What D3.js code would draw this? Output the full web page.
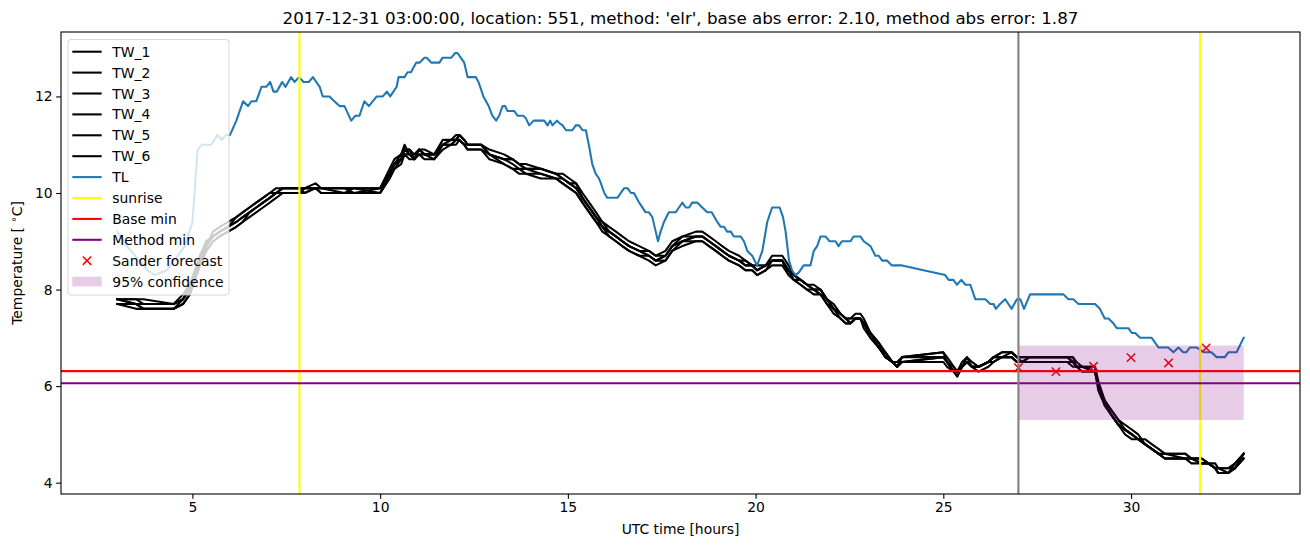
<!DOCTYPE html>
<html><head><meta charset="utf-8">
<script src="https://cdn.jsdelivr.net/npm/d3@7"></script>
<style>body{margin:0;background:#fff} svg{display:block} text{font-family:"DejaVu Sans",sans-serif;fill:#000}</style>
</head><body><svg id="c" width="1310" height="547"></svg>
<script>
const chartTitle = "2017-12-31 03:00:00, location: 551, method: 'elr', base abs error: 2.10, method abs error: 1.87";
const xLabel = "UTC time [hours]";
const xTicks = [5, 10, 15, 20, 25, 30];
const yTicks = [4, 6, 8, 10, 12];
const legendLabels = ["TW_1","TW_2","TW_3","TW_4","TW_5","TW_6","TL","sunrise","Base min","Method min","Sander forecast","95% confidence"];

const twTimes = [
 3.0, 3.5, 3.7, 4.5, 4.75,
 4.93, 5.2, 5.37, 5.55, 5.73, 5.95, 6.17, 6.34, 6.52, 6.7, 6.88, 7.06, 7.23, 7.41,
 7.85, 7.99, 8.28, 8.43, 9.05, 9.3, 10.0,
 10.25, 10.38, 10.56, 10.65, 10.78, 10.91, 11.04, 11.18, 11.44, 11.67, 11.89, 12.02, 12.11, 12.24, 12.33, 12.69,
 12.91, 13.3, 13.53, 13.7, 13.88, 14.28, 14.68, 14.86, 15.04, 15.22,
 15.39, 15.57, 15.75, 15.92, 16.1, 16.28, 16.45, 16.63, 16.9, 17.16, 17.34,
 17.6, 17.78, 18.05, 18.41, 18.58, 18.76, 18.94, 19.11, 19.29, 19.56, 19.73, 19.91, 20.04,
 20.27, 20.44, 20.71, 20.88, 21.02, 21.2, 21.37, 21.55, 21.73, 21.9, 22.08, 22.26, 22.4, 22.53, 22.66, 22.79, 22.88, 23.06, 23.28, 23.46, 23.64, 23.77, 23.9,
 25.0, 25.1, 25.28, 25.37, 25.5, 25.63, 25.76, 25.94, 26.2, 26.34, 26.56, 26.82, 26.96, 27.1, 27.3,
 28.3, 28.45, 28.55, 28.7, 29.04, 29.13, 29.3, 29.48,
 29.66, 29.84, 30.02, 30.19, 30.37, 30.55, 30.73, 30.9, 31.44, 31.61, 31.88, 32.06, 32.24, 32.32, 32.59, 32.77, 33.0];

const tw1 = [
 7.8, 7.8, 7.7, 7.7, 7.8,
 8.0, 8.6, 8.9, 9.1, 9.2, 9.3, 9.4, 9.5, 9.6, 9.7, 9.8, 9.9, 10.0, 10.1,
 10.1, 10.1, 10.2, 10.1, 10.1, 10.1, 10.1,
 10.4, 10.6, 10.7, 10.9, 10.8, 10.7, 10.9, 10.8, 10.8, 11.0, 11.1, 11.1, 11.2, 11.1, 11.0, 11.0,
 10.8, 10.7, 10.7, 10.6, 10.5, 10.5, 10.4, 10.3, 10.2, 10.1,
 9.9, 9.7, 9.5, 9.3, 9.2, 9.1, 9.0, 8.9, 8.8, 8.7, 8.6,
 8.7, 8.9, 9.0, 9.1, 9.1, 9.0, 8.9, 8.8, 8.7, 8.6, 8.5, 8.5, 8.4,
 8.5, 8.6, 8.6, 8.4, 8.3, 8.2, 8.1, 8.0, 8.0, 7.8, 7.6, 7.5, 7.4, 7.3, 7.4, 7.4, 7.3, 7.1, 6.8, 6.6, 6.5, 6.4, 6.5,
 6.6, 6.5, 6.3, 6.3, 6.4, 6.5, 6.4, 6.4, 6.5, 6.6, 6.6, 6.6, 6.5, 6.5, 6.6,
 6.6, 6.5, 6.4, 6.4, 6.3, 6.0, 5.7, 5.4,
 5.2, 5.1, 5.0, 4.9, 4.8, 4.7, 4.6, 4.5, 4.5, 4.5, 4.4, 4.4, 4.3, 4.2, 4.2, 4.3, 4.6];
const tw2 = [
 7.8, 7.7, 7.6, 7.6, 7.7,
 7.9, 8.5, 8.8, 9.0, 9.1, 9.2, 9.3, 9.4, 9.5, 9.6, 9.7, 9.8, 9.9, 10.0,
 10.0, 10.0, 10.1, 10.0, 10.0, 10.0, 10.0,
 10.3, 10.5, 10.6, 10.8, 10.7, 10.7, 10.8, 10.7, 10.7, 10.9, 11.0, 11.0, 11.1, 11.0, 10.9, 10.9,
 10.8, 10.6, 10.5, 10.5, 10.4, 10.4, 10.3, 10.2, 10.1, 10.0,
 9.8, 9.6, 9.4, 9.3, 9.1, 9.0, 8.9, 8.8, 8.7, 8.7, 8.6,
 8.6, 8.8, 9.0, 9.0, 9.0, 8.9, 8.8, 8.7, 8.6, 8.5, 8.4, 8.4, 8.3,
 8.4, 8.6, 8.6, 8.3, 8.2, 8.1, 8.0, 7.9, 7.9, 7.7, 7.6, 7.4, 7.3, 7.3, 7.4, 7.4, 7.2, 7.0, 6.8, 6.6, 6.5, 6.4, 6.6,
 6.7, 6.5, 6.3, 6.2, 6.4, 6.5, 6.4, 6.4, 6.5, 6.6, 6.7, 6.7, 6.6, 6.6, 6.6,
 6.6, 6.6, 6.5, 6.4, 6.4, 6.1, 5.7, 5.5,
 5.3, 5.1, 5.0, 4.9, 4.8, 4.7, 4.6, 4.6, 4.6, 4.5, 4.5, 4.4, 4.4, 4.3, 4.3, 4.4, 4.6];
const tw3 = [
 7.7, 7.7, 7.6, 7.6, 7.8,
 8.1, 8.7, 9.0, 9.1, 9.2, 9.3, 9.5, 9.6, 9.7, 9.8, 9.9, 10.0, 10.1, 10.1,
 10.1, 10.0, 10.1, 10.1, 10.1, 10.0, 10.1,
 10.4, 10.6, 10.8, 11.0, 10.8, 10.8, 10.9, 10.8, 10.8, 11.0, 11.0, 11.1, 11.1, 11.0, 11.0, 11.0,
 10.9, 10.8, 10.7, 10.6, 10.6, 10.5, 10.4, 10.4, 10.3, 10.2,
 10.0, 9.8, 9.6, 9.4, 9.3, 9.2, 9.1, 9.0, 8.9, 8.8, 8.7,
 8.7, 8.9, 9.1, 9.2, 9.2, 9.1, 9.0, 8.9, 8.8, 8.7, 8.6, 8.5, 8.5,
 8.5, 8.7, 8.7, 8.5, 8.3, 8.2, 8.1, 8.1, 8.0, 7.8, 7.7, 7.5, 7.4, 7.4, 7.5, 7.5, 7.4, 7.1, 6.9, 6.7, 6.5, 6.5, 6.6,
 6.7, 6.6, 6.4, 6.3, 6.5, 6.6, 6.5, 6.4, 6.5, 6.6, 6.7, 6.7, 6.6, 6.6, 6.6,
 6.6, 6.6, 6.4, 6.4, 6.4, 6.0, 5.6, 5.4,
 5.2, 5.1, 5.0, 4.9, 4.9, 4.8, 4.7, 4.6, 4.6, 4.5, 4.5, 4.4, 4.3, 4.3, 4.3, 4.3, 4.6];
const tw4 = [
 7.8, 7.8, 7.8, 7.7, 7.9,
 8.1, 8.6, 8.9, 9.2, 9.3, 9.4, 9.5, 9.6, 9.7, 9.8, 9.9, 10.0, 10.0, 10.1,
 10.1, 10.1, 10.1, 10.1, 10.0, 10.1, 10.1,
 10.5, 10.7, 10.8, 10.9, 10.9, 10.8, 10.9, 10.9, 10.8, 11.1, 11.1, 11.2, 11.2, 11.1, 11.0, 11.0,
 10.8, 10.7, 10.6, 10.5, 10.5, 10.4, 10.3, 10.3, 10.2, 10.1,
 9.9, 9.7, 9.5, 9.3, 9.2, 9.1, 9.0, 8.9, 8.8, 8.8, 8.7,
 8.8, 9.0, 9.1, 9.1, 9.1, 9.0, 8.9, 8.8, 8.7, 8.6, 8.5, 8.5, 8.4,
 8.5, 8.6, 8.6, 8.4, 8.2, 8.2, 8.1, 8.0, 7.9, 7.8, 7.6, 7.5, 7.4, 7.3, 7.4, 7.4, 7.3, 7.1, 6.8, 6.7, 6.5, 6.4, 6.6,
 6.6, 6.5, 6.3, 6.3, 6.4, 6.5, 6.4, 6.4, 6.5, 6.5, 6.6, 6.6, 6.5, 6.5, 6.5,
 6.5, 6.4, 6.4, 6.3, 6.3, 6.0, 5.6, 5.4,
 5.2, 5.0, 4.9, 4.9, 4.8, 4.7, 4.6, 4.5, 4.5, 4.5, 4.4, 4.4, 4.3, 4.2, 4.2, 4.3, 4.5];
const tw5 = [
 7.7, 7.6, 7.6, 7.6, 7.7,
 7.9, 8.5, 8.8, 9.0, 9.1, 9.2, 9.3, 9.4, 9.6, 9.7, 9.8, 9.9, 10.0, 10.0,
 10.0, 10.1, 10.1, 10.0, 10.0, 10.0, 10.0,
 10.3, 10.5, 10.7, 10.8, 10.8, 10.7, 10.8, 10.8, 10.7, 11.0, 11.0, 11.1, 11.1, 11.0, 10.9, 10.9,
 10.7, 10.6, 10.5, 10.4, 10.4, 10.3, 10.3, 10.2, 10.1, 10.0,
 9.8, 9.6, 9.4, 9.2, 9.1, 9.0, 8.9, 8.8, 8.7, 8.6, 8.5,
 8.6, 8.8, 8.9, 9.0, 9.0, 8.9, 8.8, 8.7, 8.6, 8.5, 8.4, 8.4, 8.3,
 8.4, 8.5, 8.5, 8.3, 8.2, 8.1, 8.0, 8.0, 7.9, 7.7, 7.5, 7.4, 7.3, 7.3, 7.4, 7.4, 7.3, 7.0, 6.8, 6.6, 6.5, 6.4, 6.5,
 6.5, 6.4, 6.3, 6.2, 6.4, 6.5, 6.4, 6.3, 6.4, 6.5, 6.6, 6.6, 6.5, 6.5, 6.5,
 6.5, 6.5, 6.4, 6.4, 6.3, 5.9, 5.6, 5.4,
 5.2, 5.1, 5.0, 4.9, 4.8, 4.7, 4.6, 4.5, 4.5, 4.4, 4.4, 4.4, 4.3, 4.2, 4.2, 4.3, 4.5];
const tw6 = [
 7.8, 7.7, 7.7, 7.7, 7.8,
 8.0, 8.6, 9.0, 9.1, 9.2, 9.3, 9.4, 9.5, 9.6, 9.7, 9.8, 9.9, 10.0, 10.1,
 10.1, 10.1, 10.1, 10.1, 10.1, 10.1, 10.0,
 10.4, 10.6, 10.7, 10.9, 10.9, 10.7, 10.9, 10.8, 10.8, 11.0, 11.1, 11.1, 11.2, 11.1, 11.0, 11.0,
 10.8, 10.7, 10.7, 10.6, 10.5, 10.5, 10.4, 10.3, 10.2, 10.2,
 9.9, 9.7, 9.5, 9.4, 9.2, 9.1, 9.0, 8.9, 8.8, 8.7, 8.6,
 8.7, 8.9, 9.0, 9.1, 9.1, 9.0, 8.9, 8.8, 8.7, 8.6, 8.6, 8.5, 8.4,
 8.5, 8.6, 8.6, 8.4, 8.3, 8.2, 8.1, 8.0, 8.0, 7.8, 7.6, 7.5, 7.4, 7.4, 7.4, 7.4, 7.3, 7.1, 6.9, 6.6, 6.5, 6.4, 6.5,
 6.6, 6.5, 6.4, 6.3, 6.4, 6.6, 6.4, 6.4, 6.5, 6.6, 6.6, 6.7, 6.6, 6.5, 6.6,
 6.6, 6.5, 6.4, 6.4, 6.3, 6.0, 5.7, 5.5,
 5.3, 5.2, 5.1, 5.0, 4.8, 4.7, 4.6, 4.6, 4.5, 4.5, 4.5, 4.4, 4.3, 4.3, 4.2, 4.4, 4.6];

const tlTimes = [
 3.0, 3.25, 3.81, 4.0, 4.32, 4.8, 5.0, 5.14, 5.25, 5.5, 5.67, 5.78, 5.9, 6.0,
 6.17, 6.35, 6.48, 6.57, 6.7, 6.84, 6.97, 7.07, 7.16, 7.25, 7.39, 7.48, 7.63, 7.72, 7.84, 7.96, 8.1, 8.21,
 8.39, 8.47, 8.65, 8.78, 8.92, 9.05, 9.23, 9.34, 9.45, 9.58, 9.7, 9.91, 10.07, 10.18, 10.27, 10.44, 10.49,
 10.65, 10.73, 10.82, 10.96, 11.05, 11.18, 11.24, 11.36, 11.58, 11.66, 11.89, 12.0, 12.06, 12.15, 12.24,
 12.33, 12.55, 12.62, 12.75, 12.82, 12.89, 12.99, 13.09, 13.17, 13.26, 13.33, 13.39, 13.57, 13.66, 13.81,
 13.88, 13.97, 14.09, 14.37, 14.46, 14.53, 14.59, 14.71, 14.77, 14.86, 14.95, 15.12, 15.21, 15.3, 15.39,
 15.48, 15.57, 15.65, 15.74, 15.83, 15.88, 15.97, 16.05, 16.32, 16.5, 16.59, 16.68, 16.76, 16.9, 17.07,
 17.16, 17.25, 17.34, 17.4, 17.47, 17.56, 17.69, 17.87, 17.96, 18.05, 18.14, 18.23, 18.31, 18.45, 18.58,
 18.71, 18.83, 18.98, 19.07, 19.16, 19.24, 19.34, 19.42, 19.6, 19.69, 19.78, 19.91, 20.04, 20.18, 20.31,
 20.44, 20.53, 20.64, 20.73, 20.8, 20.89, 20.97, 21.06, 21.15, 21.28, 21.46, 21.55, 21.64, 21.73, 21.86,
 21.97, 22.13, 22.21, 22.3, 22.53, 22.61, 22.79, 22.88, 23.06, 23.19, 23.28, 23.37, 23.5, 23.63, 23.9,
 25.05, 25.14, 25.27, 25.36, 25.48, 25.59, 25.72, 25.85, 26.12, 26.25, 26.34, 26.4, 26.51, 26.65, 26.82,
 26.96, 27.05, 27.15, 27.31, 28.2, 28.33, 28.46, 28.6, 29.04, 29.17, 29.3, 29.4, 29.53, 29.62, 29.93,
 30.02, 30.11, 30.24, 30.55, 30.64, 30.73, 30.99, 31.13, 31.26, 31.39, 31.47, 31.57, 31.74, 31.95, 32.14,
 32.28, 32.5, 32.59, 32.81, 33.0];
const tlValues = [
 9.2, 8.9, 8.4, 8.3, 8.4, 8.9, 9.4, 10.9, 11.0, 11.0, 11.2, 11.1, 11.2, 11.2,
 11.5, 11.9, 11.8, 11.9, 11.9, 12.2, 12.2, 12.3, 12.1, 12.1, 12.3, 12.2, 12.4, 12.3, 12.4, 12.3, 12.3, 12.4,
 12.2, 12.0, 12.0, 11.9, 11.8, 11.8, 11.5, 11.6, 11.6, 11.9, 11.8, 12.0, 12.0, 12.1, 12.0, 12.2, 12.4,
 12.4, 12.5, 12.5, 12.7, 12.7, 12.8, 12.8, 12.7, 12.7, 12.8, 12.8, 12.9, 12.9, 12.8, 12.7,
 12.4, 12.4, 12.3, 12.0, 11.9, 11.8, 11.6, 11.5, 11.6, 11.8, 11.8, 11.7, 11.7, 11.6, 11.6,
 11.55, 11.4, 11.5, 11.5, 11.4, 11.5, 11.4, 11.5, 11.45, 11.4, 11.3, 11.3, 11.4, 11.4, 11.3,
 11.3, 10.95, 10.6, 10.4, 10.3, 10.2, 10.0, 9.9, 9.9, 10.1, 10.1, 10.0, 10.0, 9.8, 9.6,
 9.6, 9.5, 9.2, 9.0, 9.2, 9.4, 9.6, 9.6, 9.7, 9.8, 9.7, 9.7, 9.8, 9.8, 9.7,
 9.6, 9.6, 9.4, 9.3, 9.3, 9.2, 9.2, 9.1, 9.1, 9.0, 8.8, 8.7, 8.5, 8.8, 9.4,
 9.7, 9.7, 9.7, 9.5, 9.2, 8.6, 8.4, 8.3, 8.35, 8.5, 8.5, 8.8, 8.9, 9.1, 9.1,
 9.0, 9.0, 8.9, 9.0, 9.0, 9.1, 9.1, 9.0, 8.9, 8.7, 8.7, 8.6, 8.6, 8.5, 8.5,
 8.3, 8.2, 8.2, 8.1, 8.2, 8.1, 8.1, 7.8, 7.8, 7.7, 7.7, 7.6, 7.7, 7.8, 7.6,
 7.8, 7.8, 7.6, 7.9, 7.9, 7.8, 7.8, 7.7, 7.7, 7.6, 7.4, 7.4, 7.3, 7.2, 7.2,
 7.1, 7.1, 7.0, 7.0, 6.9, 6.8, 6.8, 6.7, 6.8, 6.7, 6.7, 6.8, 6.8, 6.7, 6.7,
 6.6, 6.6, 6.7, 6.7, 7.0];

const sunriseTimes = [7.85, 31.84];
const forecastStart = 27;
const baseMin = 6.31;
const methodMin = 6.06;
const sanderTimes = [27, 28, 29, 30, 31, 32];
const sanderValues = [6.38, 6.30, 6.41, 6.59, 6.48, 6.79];
const confTimes = [27, 33];
const confLow = 5.30;
const confHigh = 6.84;

const twSeries = [tw1, tw2, tw3, tw4, tw5, tw6];

const svg = d3.select("#c");
const L = 61, R = 1300, T = 32, B = 494;
const x = d3.scaleLinear().domain([1.5, 34.5]).range([L, R]);
const y = d3.scaleLinear().domain([3.765, 13.335]).range([B, T]);

svg.append("defs").append("clipPath").attr("id", "clip")
  .append("rect").attr("x", L).attr("y", T).attr("width", R - L).attr("height", B - T);
const plot = svg.append("g").attr("clip-path", "url(#clip)");

const line = d3.line().x(d => x(d[0])).y(d => y(d[1]));

twSeries.forEach(vals => {
  const pts = twTimes.map((t, i) => [t, vals[i]]).filter(d => d[1] != null);
  plot.append("path").attr("d", line(pts)).attr("fill", "none")
    .attr("stroke", "#000").attr("stroke-width", 2.08).attr("stroke-linejoin", "round").attr("stroke-linecap", "square");
});
plot.append("path").attr("d", line(tlTimes.map((t, i) => [t, tlValues[i]])))
  .attr("fill", "none").attr("stroke", "#1f77b4").attr("stroke-width", 2.08).attr("stroke-linejoin", "round").attr("stroke-linecap", "square");

sunriseTimes.forEach(t => {
  plot.append("line").attr("x1", x(t)).attr("x2", x(t)).attr("y1", T).attr("y2", B)
    .attr("stroke", "#ffff00").attr("stroke-width", 2.08);
});
plot.append("line").attr("x1", L).attr("x2", R).attr("y1", y(baseMin)).attr("y2", y(baseMin))
  .attr("stroke", "#ff0000").attr("stroke-width", 2.08);
plot.append("line").attr("x1", L).attr("x2", R).attr("y1", y(methodMin)).attr("y2", y(methodMin))
  .attr("stroke", "#800080").attr("stroke-width", 2.08);

const xmark = (g, cx, cy, s) => {
  g.append("path").attr("d", `M${cx - s},${cy - s}L${cx + s},${cy + s}M${cx - s},${cy + s}L${cx + s},${cy - s}`)
    .attr("stroke", "#ff0000").attr("stroke-width", 1.5).attr("fill", "none");
};
sanderTimes.forEach((t, i) => xmark(plot, x(t), y(sanderValues[i]), 4.2));

plot.append("rect").attr("x", x(confTimes[0])).attr("width", x(confTimes[1]) - x(confTimes[0]))
  .attr("y", y(confHigh)).attr("height", y(confLow) - y(confHigh))
  .attr("fill", "#800080").attr("fill-opacity", 0.2);

plot.append("line").attr("x1", x(forecastStart)).attr("x2", x(forecastStart)).attr("y1", T).attr("y2", B)
  .attr("stroke", "#808080").attr("stroke-width", 2.08);

// axes
const fs = 13.9;
const xAxis = svg.append("g").attr("transform", `translate(0,${B})`)
  .call(d3.axisBottom(x).tickValues(xTicks).tickSize(4.86).tickPadding(3.5).tickFormat(d3.format("d")));
const yAxis = svg.append("g").attr("transform", `translate(${L},0)`)
  .call(d3.axisLeft(y).tickValues(yTicks).tickSize(4.86).tickPadding(3.5).tickFormat(d3.format("d")));
[xAxis, yAxis].forEach(a => {
  a.select(".domain").remove();
  a.selectAll(".tick line").attr("stroke", "#000").attr("stroke-width", 1.1);
  a.selectAll(".tick text").attr("font-size", fs).attr("font-family", "DejaVu Sans").attr("fill", "#000");
});
svg.append("rect").attr("x", L).attr("y", T).attr("width", R - L).attr("height", B - T)
  .attr("fill", "none").attr("stroke", "#000").attr("stroke-width", 1.1);

svg.append("text").attr("x", (L + R) / 2).attr("y", 534).attr("text-anchor", "middle")
  .attr("font-size", fs).text(xLabel);
const yl = svg.append("text").attr("transform", `translate(22,${(T + B) / 2}) rotate(-90)`)
  .attr("text-anchor", "middle").attr("font-size", fs);
yl.append("tspan").text("Temperature [ ");
yl.append("tspan").attr("font-size", 10).attr("dy", -5).text("∘");
yl.append("tspan").attr("dy", 5).text("C]");

svg.append("text").attr("x", (L + R) / 2).attr("y", 24).attr("text-anchor", "middle")
  .attr("font-size", 16.7).text(chartTitle);

// legend
const lg = svg.append("g");
lg.append("rect").attr("x", 68).attr("y", 39.5).attr("width", 161).attr("height", 255.5)
  .attr("rx", 3).attr("fill", "#fff").attr("fill-opacity", 0.8)
  .attr("stroke", "#cccccc").attr("stroke-opacity", 0.8).attr("stroke-width", 1);
const legendColors = ["#000","#000","#000","#000","#000","#000","#1f77b4","#ffff00","#ff0000","#800080"];
legendLabels.forEach((lab, i) => {
  const cy = 51.7 + i * 20.9;
  if (i < 10) {
    lg.append("line").attr("x1", 72.3).attr("x2", 101.7).attr("y1", cy).attr("y2", cy)
      .attr("stroke", legendColors[i]).attr("stroke-width", 2.08);
  } else if (i === 10) {
    xmark(lg, 87, cy, 4.2);
  } else {
    lg.append("rect").attr("x", 72.3).attr("y", cy - 4.9).attr("width", 29.4).attr("height", 9.7)
      .attr("fill", "#800080").attr("fill-opacity", 0.2);
  }
  lg.append("text").attr("x", 112.3).attr("y", cy).attr("dy", "0.36em").attr("font-size", fs).text(lab);
});
</script></body></html>
